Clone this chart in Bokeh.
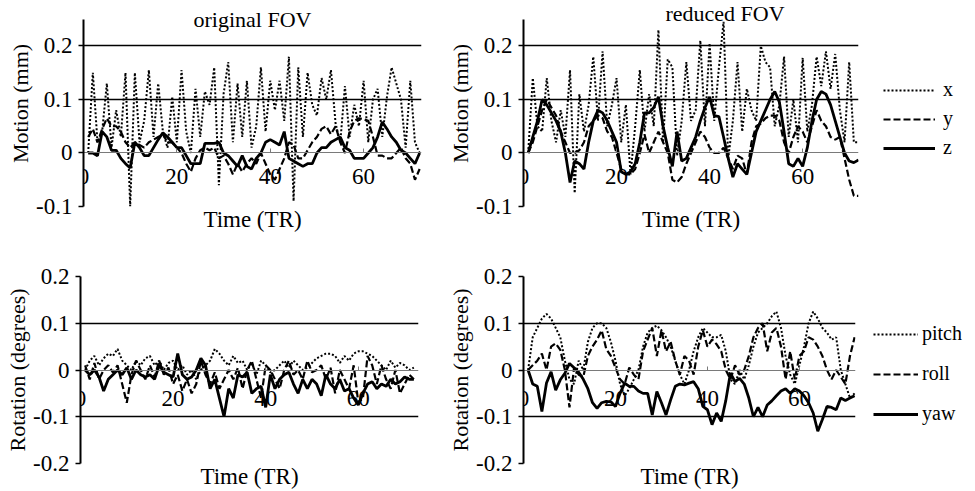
from bokeh.plotting import figure
from bokeh.layouts import column, row
from bokeh.models import (Range1d, LinearAxis, FixedTicker, CustomJSTickFormatter,
                          Label, Legend, LegendItem)
from bokeh.embed import file_html
from bokeh.resources import INLINE

FONT = "Liberation Serif"

# ---------------- data ----------------
time_tr = list(range(1, 73))
x_ticks = [0, 20, 40, 60]
motion_ticks = [-0.1, 0, 0.1, 0.2]
rotation_ticks = [-0.2, -0.1, 0, 0.1, 0.2]

orig_x = [0.00, 0.15, 0.02, 0.04, 0.13, 0.01, 0.08, 0.03, 0.15, -0.10,
          0.15, 0.02, 0.06, 0.155, 0.03, 0.13, 0.04, 0.01, 0.105, 0.02,
          0.155, 0.04, 0.00, 0.12, 0.03, 0.115, 0.09, 0.16, -0.06, 0.11,
          0.17, 0.02, 0.13, 0.03, 0.135, 0.01, 0.05, 0.16, 0.04, 0.135,
          0.08, 0.135, 0.06, 0.18, -0.09, 0.16, 0.03, 0.15, 0.09, 0.07,
          0.14, 0.10, 0.155, 0.055, 0.02, 0.125, 0.03, 0.09, 0.05, 0.135,
          0.02, 0.10, 0.12, 0.03, 0.105, 0.16, 0.13, 0.10, 0.01, 0.135,
          0.02, 0.00]
orig_y = [0.03, 0.045, 0.02, 0.045, 0.065, 0.05, 0.05, 0.04, 0.02, 0.01,
          0.02, 0.015, 0.01, 0.02, 0.025, 0.03, 0.035, 0.02, 0.02, 0.01,
          0.0, -0.02, -0.035, -0.01, 0.005, 0.01, 0.005, 0.01, -0.01, -0.005,
          -0.02, -0.04, -0.02, -0.035, -0.02, -0.01, -0.02, 0.0, -0.02, -0.04,
          -0.05, -0.03, -0.01, 0.02, 0.015, -0.01, -0.01, 0.005, 0.02, 0.03,
          0.045, 0.05, 0.035, 0.05, 0.02, 0.0, 0.04, 0.06, 0.065, 0.063,
          0.06, 0.03, -0.005, -0.005, -0.01, -0.01, 0.0, 0.01, -0.01, -0.02,
          -0.05, -0.03]
orig_z = [0.0, 0.0, -0.005, 0.04, 0.03, 0.005, 0.005, -0.01, -0.02, -0.028,
          0.02, 0.01, -0.005, -0.005, 0.01, 0.025, 0.038, 0.03, 0.02, 0.01,
          0.01, -0.005, -0.02, -0.02, -0.02, 0.018, 0.018, 0.018, 0.02, 0.0,
          -0.005, -0.015, -0.025, -0.005, -0.025, -0.03, -0.01, 0.0, 0.02, 0.025,
          0.02, 0.015, 0.04, -0.01, -0.015, -0.02, -0.025, -0.02, -0.02, 0.0,
          0.01, 0.01, 0.02, 0.025, 0.03, 0.01, 0.005, -0.01, -0.01, -0.01,
          0.0, 0.01, 0.03, 0.058, 0.045, 0.03, 0.02, 0.005, 0.0, -0.01,
          -0.02, 0.0]

red_x = [0.0, 0.14, 0.05, 0.04, 0.14, 0.06, 0.02, 0.08, 0.03, 0.155,
         -0.075, 0.11, 0.04, 0.09, 0.18, 0.06, 0.19, 0.05, 0.09, 0.14,
         0.02, 0.09, -0.04, 0.05, 0.155, 0.04, 0.11, 0.05, 0.23, 0.02,
         0.175, 0.16, -0.005, 0.06, 0.17, 0.06, 0.08, 0.21, 0.05, 0.205,
         0.06, 0.16, 0.245, -0.01, 0.06, 0.17, 0.04, 0.12, 0.08, 0.06,
         0.2, 0.17, 0.16, 0.05, 0.09, 0.18, 0.03, 0.1, 0.02, 0.178,
         0.04, 0.09, 0.18, 0.125, 0.19, 0.12, 0.185, 0.08, 0.02, 0.17,
         0.02, 0.02]
red_y = [0.0, 0.02, 0.05, 0.08, 0.1, 0.085, 0.07, 0.04, 0.02, 0.0,
         0.0, 0.005, 0.02, 0.05, 0.06, 0.07, 0.065, 0.04, 0.03, 0.0,
         -0.03, -0.04, -0.04, -0.03, 0.0, 0.035, 0.0, 0.02, 0.04, 0.02,
         0.0, -0.05, -0.055, -0.045, -0.02, 0.0, 0.02, 0.04, 0.03, 0.01,
         0.0, 0.0, 0.01, -0.01, -0.03, -0.005, -0.01, -0.04, 0.02, 0.05,
         0.055, 0.065, 0.07, 0.07, 0.06, 0.02, 0.0, 0.03, 0.05, 0.04,
         0.02, 0.05, 0.08, 0.06, 0.05, 0.03, 0.025, 0.03, -0.01, -0.05,
         -0.08, -0.08]
red_z = [0.0, 0.03, 0.06, 0.1, 0.09, 0.075, 0.06, 0.04, 0.0, -0.055,
         -0.015, -0.02, -0.03, 0.02, 0.06, 0.08, 0.075, 0.06, 0.04, 0.02,
         -0.035, -0.04, -0.035, -0.02, 0.02, 0.075, 0.075, 0.085, 0.105, 0.05,
         0.01, -0.025, 0.04, -0.015, -0.01, 0.01, 0.03, 0.06, 0.085, 0.105,
         0.07, 0.068, 0.03, -0.01, -0.045, -0.02, -0.03, -0.04, 0.0, 0.04,
         0.06, 0.08, 0.1, 0.115, 0.095, 0.04, -0.02, -0.025, -0.01, -0.025,
         0.01, 0.06, 0.1, 0.115, 0.11, 0.09, 0.06, 0.03, 0.0, -0.015,
         -0.018, -0.013]

orig_pitch = [0.0, 0.02, 0.03, 0.01, 0.025, 0.035, 0.03, 0.045, 0.02, 0.01,
              0.0, 0.02, 0.01, 0.025, 0.03, 0.01, 0.02, 0.0, 0.015, 0.02,
              0.0, 0.01, -0.01, 0.0, -0.02, 0.0, 0.01, 0.02, 0.045, 0.035,
              0.02, 0.01, 0.03, 0.015, 0.02, 0.0, 0.015, -0.01, 0.02, 0.01,
              -0.005, 0.0, 0.01, 0.02, 0.005, 0.02, 0.01, 0.0, 0.005, 0.015,
              0.025, 0.03, 0.035, 0.035, 0.03, 0.015, 0.03, 0.02, 0.035, 0.04,
              0.04, 0.035, 0.03, 0.02, 0.01, 0.0, 0.02, 0.005, 0.015, 0.01,
              0.0, 0.005]
orig_roll = [0.01, -0.02, 0.015, -0.02, 0.0, 0.01, -0.005, 0.01, -0.03, -0.07,
             -0.01, 0.02, 0.0, -0.02, 0.01, -0.015, 0.02, -0.01, 0.005, -0.03,
             -0.01, -0.045, -0.02, -0.05, -0.03, 0.02, -0.01, -0.03, -0.005, -0.04,
             -0.02, 0.0, -0.02, 0.005, -0.04, 0.0, 0.02, -0.02, -0.06, 0.01,
             0.0, -0.02, -0.04, 0.0, 0.02, -0.01, 0.0, -0.02, 0.02, -0.005,
             0.0, 0.01, -0.02, 0.005, -0.05, 0.0, -0.02, -0.04, 0.01, -0.07,
             -0.06, 0.03, 0.01, -0.03, 0.01, -0.02, -0.04, 0.0, -0.05, -0.03,
             -0.01, -0.02]
orig_yaw = [0.0, -0.01, 0.0, -0.015, -0.045, -0.02, -0.01, 0.0, -0.01, 0.005,
            -0.02, 0.0, -0.01, -0.015, -0.01, -0.02, 0.01, -0.005, -0.01, -0.015,
            0.035, -0.01, -0.02, -0.015, 0.0, 0.025, 0.01, -0.04, -0.02, -0.06,
            -0.1, -0.04, -0.06, -0.01, -0.015, -0.005, -0.05, -0.04, -0.035, -0.08,
            -0.01, -0.04, -0.02, -0.01, -0.005, -0.03, -0.05, -0.02, -0.04, -0.02,
            -0.03, -0.055, -0.01, -0.03, -0.04, -0.02, -0.045, -0.04, -0.06, -0.075,
            -0.05, -0.03, -0.025, -0.04, -0.03, -0.035, -0.02, -0.03, -0.025, -0.015,
            -0.02, -0.02]

red_pitch = [0.0, 0.07, 0.09, 0.11, 0.12, 0.11, 0.09, 0.07, 0.02, -0.02,
             -0.03, 0.02, 0.0, 0.06, 0.09, 0.1, 0.1, 0.09, 0.06, 0.02,
             -0.03, -0.055, -0.04, -0.02, 0.0, 0.05, 0.08, 0.09, 0.095, 0.085,
             0.07, 0.05, 0.02, -0.01, -0.03, 0.0, 0.04, 0.07, 0.09, 0.08,
             0.07, 0.07, 0.075, 0.04, -0.02, -0.03, 0.0, -0.02, 0.01, 0.05,
             0.08, 0.09, 0.1, 0.115, 0.125, 0.09, 0.03, -0.01, -0.03, 0.01,
             0.05, 0.1, 0.125, 0.11, 0.09, 0.08, 0.065, 0.07, 0.0, -0.03,
             -0.06, -0.05]
red_roll = [0.0, 0.01, 0.02, 0.035, 0.0, 0.05, 0.057, 0.043, 0.0, -0.08,
            0.005, -0.01, -0.015, 0.03, 0.05, 0.065, 0.085, 0.045, 0.03, 0.005,
            -0.02, -0.03, 0.005, -0.01, -0.02, 0.04, 0.065, 0.09, 0.03, 0.085,
            0.04, 0.06, 0.02, -0.01, 0.03, 0.02, -0.01, 0.05, 0.085, 0.05,
            0.065, 0.055, 0.04, 0.0, -0.02, 0.01, -0.01, 0.0, 0.03, 0.07,
            0.09, 0.1, 0.04, 0.08, 0.09, 0.05, -0.02, 0.04, -0.02, 0.03,
            0.04, 0.07, 0.065, 0.05, 0.03, 0.0, -0.02, 0.0, -0.015, -0.03,
            0.03, 0.07]
red_yaw = [0.0, -0.03, -0.035, -0.089, -0.028, -0.004, -0.043, -0.021, -0.007, 0.014,
           0.005, -0.005, -0.02, -0.04, -0.07, -0.082, -0.07, -0.067, -0.068, -0.078,
           -0.05, -0.028, -0.035, -0.035, -0.045, -0.05, -0.05, -0.096, -0.046, -0.07,
           -0.096, -0.064, -0.035, -0.03, -0.032, -0.028, -0.025, -0.04, -0.078, -0.085,
           -0.117, -0.092, -0.11, -0.065, -0.007, -0.025, -0.018, -0.03, -0.06, -0.1,
           -0.08, -0.1, -0.075, -0.066, -0.055, -0.045, -0.04, -0.05, -0.04, -0.045,
           -0.055, -0.07, -0.092, -0.131, -0.106, -0.078, -0.08, -0.085, -0.06, -0.065,
           -0.06, -0.055]

DOT = dict(line_dash="2 2", line_width=2.0, line_color="black")
DASH = dict(line_dash="7 3", line_width=2.2, line_color="black")
SOLID = dict(line_width=2.8, line_color="black")


def make_panel(width, height, bl, br, bt, bb, x_end, y_start, y_end,
               yticks, ylabel, x_standoff, axis_top):
    p = figure(width=width, height=height, output_backend="svg",
               toolbar_location=None,
               x_range=Range1d(0, x_end), y_range=Range1d(y_start, y_end),
               min_border_left=bl, min_border_right=br,
               min_border_top=bt, min_border_bottom=bb,
               outline_line_color=None, background_fill_color="white",
               border_fill_color="white")
    p.xgrid.visible = False
    p.ygrid.ticker = FixedTicker(ticks=[v for v in yticks if v != 0])
    p.ygrid.grid_line_color = "black"
    p.ygrid.grid_line_width = 1.5

    # axis carrying the x title at the bottom
    xa = p.xaxis[0]
    xa.ticker = FixedTicker(ticks=[])
    xa.axis_line_color = None
    xa.major_tick_line_color = None
    xa.minor_tick_line_color = None
    xa.major_label_standoff = 0
    xa.major_tick_out = 0
    xa.axis_label = "Time (TR)"
    xa.axis_label_standoff = 0
    xa.axis_label_text_font = FONT
    xa.axis_label_text_font_size = "23px"
    xa.axis_label_text_font_style = "normal"
    xa.axis_label_text_color = "black"

    # x axis crossing at zero
    za = LinearAxis(fixed_location=0, ticker=FixedTicker(ticks=x_ticks))
    za.axis_line_color = "#7a7a7a"
    za.axis_line_width = 1.2
    za.major_tick_in = 4
    za.major_tick_out = 0
    za.major_tick_line_color = "#7a7a7a"
    za.minor_tick_line_color = None
    za.major_label_standoff = x_standoff
    za.major_label_text_font = FONT
    za.major_label_text_font_size = "23px"
    za.major_label_text_color = "black"
    p.add_layout(za, "below")

    ya = p.yaxis[0]
    ya.bounds = (yticks[0], axis_top)
    ya.ticker = FixedTicker(ticks=yticks)
    ya.formatter = CustomJSTickFormatter(
        code="return Math.abs(tick) < 1e-9 ? '0' : tick.toFixed(1);")
    ya.major_tick_out = 5
    ya.major_tick_in = 0
    ya.major_tick_line_color = "black"
    ya.major_tick_line_width = 1.5
    ya.minor_tick_line_color = None
    ya.axis_line_color = "black"
    ya.axis_line_width = 2
    ya.major_label_standoff = 6
    ya.major_label_text_font = FONT
    ya.major_label_text_font_size = "23px"
    ya.major_label_text_color = "black"
    ya.axis_label = ylabel
    ya.axis_label_standoff = 0
    ya.axis_label_text_font = FONT
    ya.axis_label_text_font_size = "22px"
    ya.axis_label_text_font_style = "normal"
    ya.axis_label_text_color = "black"
    return p


def legend_panel(width, height, series, styles, labels, vx, vy, glyph_w, spacing, standoff):
    # the series are drawn far outside this panel's ranges; only the legend shows
    q = figure(width=width, height=height, output_backend="svg",
               toolbar_location=None, x_axis_type=None, y_axis_type=None,
               x_range=Range1d(-1000, -999), y_range=Range1d(0, 1), min_border=0,
               outline_line_color=None, background_fill_color="white",
               border_fill_color="white")
    rs = [q.line(time_tr, s, **st) for s, st in zip(series, styles)]
    leg = Legend(items=[LegendItem(label=l, renderers=[r]) for l, r in zip(labels, rs)],
                 location=(vx, vy), glyph_width=glyph_w, glyph_height=22,
                 label_height=22, spacing=spacing, padding=0, margin=0,
                 label_standoff=standoff, border_line_color=None,
                 background_fill_alpha=0, label_text_font=FONT,
                 label_text_font_size="20px", label_text_color="black")
    q.add_layout(leg)
    return q


TOP_END = 0.285   # frame reaches the top of the page so the title is not clipped

# ---------------- top-left: original FOV, motion ----------------
p1 = make_panel(444, 234, 83, 23, 0, 28, 72.4, -0.1, TOP_END,
                motion_ticks, "Motion (mm)", 16, 0.25)
p1.line(time_tr, orig_x, **DOT)
p1.line(time_tr, orig_y, **DASH)
p1.line(time_tr, orig_z, **SOLID)
p1.add_layout(Label(x=36.2, y=0.249, text="original FOV", text_align="center",
                    text_baseline="middle", text_font=FONT,
                    text_font_size="22px", text_color="black"))

# ---------------- top-right: reduced FOV, motion ----------------
p2 = make_panel(424, 234, 79, 10, 0, 28, 72.0, -0.1, TOP_END,
                motion_ticks, "Motion (mm)", 16, 0.25)
p2.line(time_tr, red_x, **DOT)
p2.line(time_tr, red_y, **DASH)
p2.line(time_tr, red_z, **SOLID)
p2.add_layout(Label(x=43.3, y=0.260, text="reduced FOV", text_align="center",
                    text_baseline="middle", text_font=FONT,
                    text_font_size="22px", text_color="black"))
leg1 = legend_panel(107, 234, [red_x, red_y, red_z], [DOT, DASH, SOLID],
                    ["x", "y", "z"], 15, 47, 52, 6, 8)

# ---------------- bottom-left: original FOV, rotation ----------------
p3 = make_panel(444, 257, 80, 26, 42, 27, 73.0, -0.2, 0.2,
                rotation_ticks, "Rotation (degrees)", 21, 0.2)
p3.line(time_tr, orig_pitch, **DOT)
p3.line(time_tr, orig_roll, **DASH)
p3.line(time_tr, orig_yaw, **SOLID)

# ---------------- bottom-right: reduced FOV, rotation ----------------
p4 = make_panel(421, 257, 79, 10, 42, 27, 72.2, -0.2, 0.2,
                rotation_ticks, "Rotation (degrees)", 21, 0.2)
p4.line(time_tr, red_pitch, **DOT)
p4.line(time_tr, red_roll, **DASH)
p4.line(time_tr, red_yaw, **SOLID)
leg2 = legend_panel(110, 257, [red_pitch, red_roll, red_yaw], [DOT, DASH, SOLID],
                    ["pitch", "roll", "yaw"], 8, 38, 45, 17, 4)

layout = column(row(p1, p2, leg1), row(p3, p4, leg2))
open("out.html", "w").write(file_html(layout, INLINE))
